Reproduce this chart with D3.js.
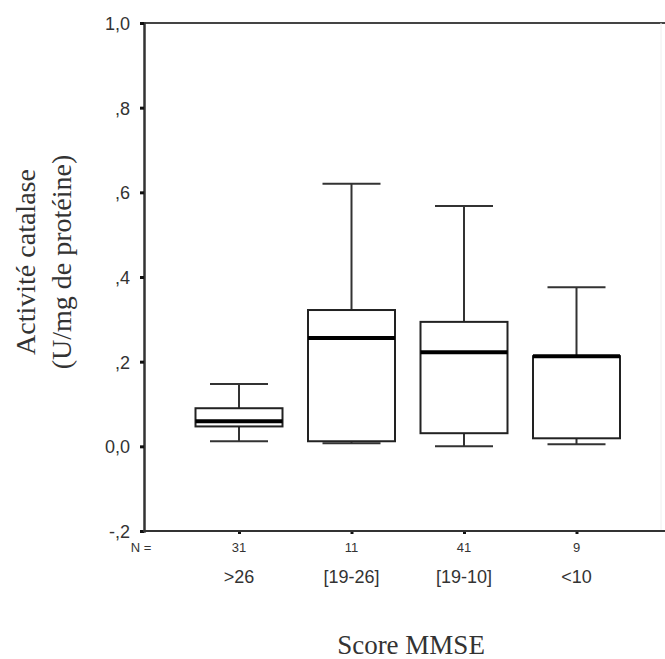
<!DOCTYPE html>
<html><head><meta charset="utf-8">
<script src="https://cdn.jsdelivr.net/npm/d3@7"></script>
<style>body{margin:0;background:#fff}svg{display:block}</style>
</head><body>
<script>
const categories = [">26", "[19-26]", "[19-10]", "<10"];
const counts = [31, 11, 41, 9];
const whiskerLow = [0.012, 0.007, 0.0, 0.005];
const q1 = [0.047, 0.012, 0.031, 0.019];
const median = [0.059, 0.256, 0.222, 0.213];
const q3 = [0.090, 0.322, 0.294, 0.213];
const whiskerHigh = [0.147, 0.62, 0.568, 0.376];
const yTicks = [-0.2, 0, 0.2, 0.4, 0.6, 0.8, 1.0];
const yTickLabels = ["-,2", "0,0", ",2", ",4", ",6", ",8", "1,0"];

const W = 665, H = 659;
const svg = d3.select("body").append("svg").attr("width", W).attr("height", H);
const y = d3.scaleLinear().domain([-0.2, 1.0]).range([531, 23]);
const x = d3.scalePoint().domain(categories).range([239, 576.5]);
const axisX = 144;
const sans = "Arial, 'Liberation Sans', sans-serif";
const serif = "'Liberation Serif', 'Times New Roman', serif";

// frame
svg.append("line").attr("x1", axisX).attr("x2", W).attr("y1", y(1)).attr("y2", y(1)).attr("stroke", "#444").attr("stroke-width", 2);
svg.append("line").attr("x1", 661).attr("x2", 661).attr("y1", y(1)).attr("y2", y(-0.2)).attr("stroke", "#eee").attr("stroke-width", 1);

// y axis
const yAxis = d3.axisLeft(y).tickValues(yTicks).tickFormat((d, i) => yTickLabels[i]).tickSize(4).tickPadding(10);
const gy = svg.append("g").attr("transform", `translate(${axisX},0)`).call(yAxis);
gy.attr("font-size", null).attr("font-family", null);
gy.select(".domain").attr("stroke", "#333").attr("stroke-width", 2.5);
gy.selectAll(".tick line").attr("stroke", "#111").attr("stroke-width", 3);
gy.selectAll(".tick text").attr("font-family", sans).attr("font-size", 18).attr("fill", "#333").attr("dy", "0.36em");

// x axis
const xAxis = d3.axisBottom(x).tickSize(3).tickFormat("");
const gx = svg.append("g").attr("transform", `translate(0,${y(-0.2)})`).call(xAxis);
gx.select(".domain").remove();
svg.append("line").attr("x1", axisX - 1).attr("x2", W).attr("y1", y(-0.2)).attr("y2", y(-0.2)).attr("stroke", "#333").attr("stroke-width", 2);
gx.selectAll(".tick line").attr("stroke", "#111").attr("stroke-width", 3);

// N labels
svg.append("text").attr("x", 141).attr("y", 552).attr("text-anchor", "middle").attr("font-family", sans).attr("font-size", 13).attr("fill", "#333").text("N =");
svg.selectAll("text.n").data(categories).enter().append("text").attr("class", "n")
  .attr("x", d => x(d)).attr("y", 552).attr("text-anchor", "middle")
  .attr("font-family", sans).attr("font-size", 13).attr("fill", "#333")
  .text((d, i) => counts[i]);
svg.selectAll("text.cat").data(categories).enter().append("text").attr("class", "cat")
  .attr("x", d => x(d)).attr("y", 583).attr("text-anchor", "middle")
  .attr("font-family", sans).attr("font-size", 18).attr("fill", "#333")
  .text(d => d);

// boxes
const boxW = 87, capW = 58;
const g = svg.append("g");
categories.forEach((c, i) => {
  const cx = x(c);
  g.append("line").attr("x1", cx).attr("x2", cx).attr("y1", y(whiskerHigh[i])).attr("y2", y(q3[i])).attr("stroke", "#333").attr("stroke-width", 2);
  g.append("line").attr("x1", cx).attr("x2", cx).attr("y1", y(q1[i])).attr("y2", y(whiskerLow[i])).attr("stroke", "#333").attr("stroke-width", 2);
  g.append("line").attr("x1", cx - capW / 2).attr("x2", cx + capW / 2).attr("y1", y(whiskerHigh[i])).attr("y2", y(whiskerHigh[i])).attr("stroke", "#333").attr("stroke-width", 2);
  g.append("line").attr("x1", cx - capW / 2).attr("x2", cx + capW / 2).attr("y1", y(whiskerLow[i])).attr("y2", y(whiskerLow[i])).attr("stroke", "#333").attr("stroke-width", 2);
  g.append("rect").attr("x", cx - boxW / 2).attr("width", boxW).attr("y", y(q3[i])).attr("height", y(q1[i]) - y(q3[i]))
    .attr("fill", "#fff").attr("stroke", "#222").attr("stroke-width", 2);
  g.append("line").attr("x1", cx - boxW / 2).attr("x2", cx + boxW / 2).attr("y1", y(median[i])).attr("y2", y(median[i])).attr("stroke", "#000").attr("stroke-width", 4);
});

// titles
svg.append("text").attr("transform", "translate(35,262) rotate(-90)").attr("text-anchor", "middle")
  .attr("font-family", serif).attr("font-size", 28).attr("fill", "#333").text("Activité catalase");
svg.append("text").attr("transform", "translate(71,262) rotate(-90)").attr("text-anchor", "middle")
  .attr("font-family", serif).attr("font-size", 28).attr("fill", "#333").text("(U/mg de protéine)");
svg.append("text").attr("x", 411).attr("y", 654).attr("text-anchor", "middle")
  .attr("font-family", serif).attr("font-size", 27).attr("fill", "#333").text("Score MMSE");
</script>
</body></html>
